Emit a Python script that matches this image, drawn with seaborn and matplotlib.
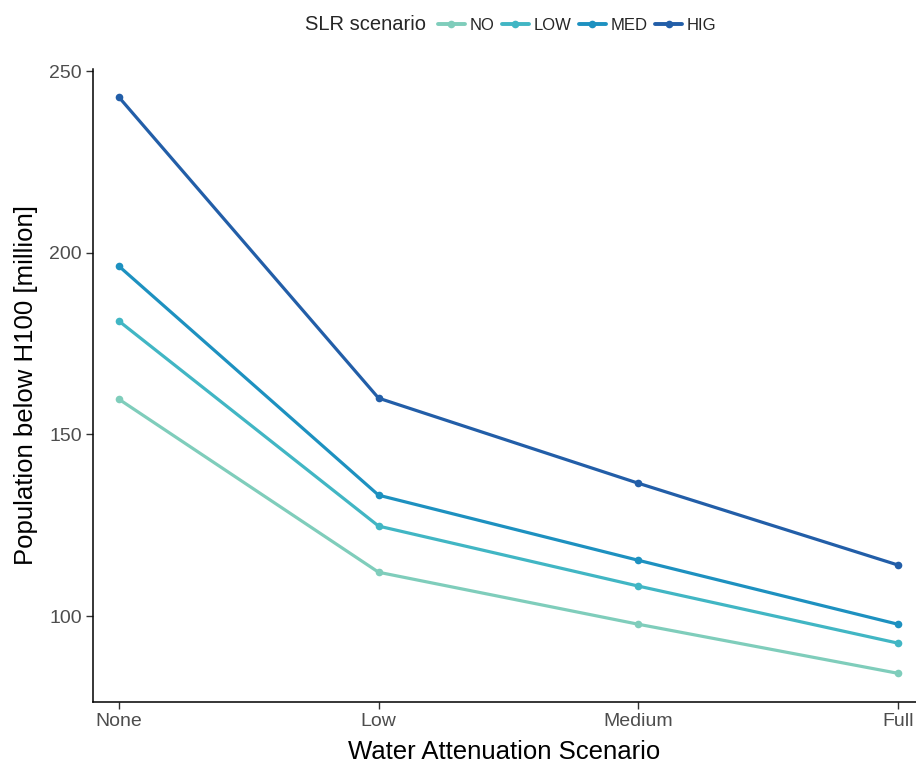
import pandas as pd
import matplotlib
matplotlib.use("Agg")
import matplotlib.pyplot as plt
import seaborn as sns

scenarios = ["None", "Low", "Medium", "Full"]
slr_levels = ["NO", "LOW", "MED", "HIG"]
pop_no = [159.7, 112.1, 97.8, 84.3]
pop_low = [181.2, 124.8, 108.3, 92.6]
pop_med = [196.3, 133.3, 115.4, 97.8]
pop_hig = [242.8, 160.0, 136.6, 114.1]
colors = ["#7fcdbb", "#41b6c4", "#1d91c0", "#225ea8"]

rows = []
for lvl, vals in zip(slr_levels, [pop_no, pop_low, pop_med, pop_hig]):
    for sc, v in zip(scenarios, vals):
        rows.append({"scenario": sc, "pop": v, "SLR": lvl})
df = pd.DataFrame(rows)

sns.set_style("white")
plt.rcParams['font.family'] = ['Liberation Sans', 'DejaVu Sans']

fig = plt.figure(figsize=(9.16, 7.62), dpi=100)
ax = fig.add_axes([93 / 916, 1 - 702 / 762, 1 - 93 / 916, (702 - 68.5) / 762])

sns.lineplot(data=df, x="scenario", y="pop", hue="SLR", hue_order=slr_levels,
             palette=colors, marker="o", markersize=5.5, markeredgewidth=0,
             linewidth=2.3, sort=False, ax=ax, legend=True)

ax.set_xlim(-0.1, 3.07)
ax.set_ylim(76.4, 250.7)
ax.set_yticks([100, 150, 200, 250])
ax.set_xlabel("Water Attenuation Scenario", fontsize=18.5, color="black", labelpad=7)
ax.set_ylabel("Population below H100 [million]", fontsize=18.5, color="black", labelpad=8)
ax.tick_params(axis="both", which="both", direction="out", length=5, width=1,
               color="#333333", labelsize=14, labelcolor="#4d4d4d",
               bottom=True, left=True, pad=3)
for s in ["top", "right"]:
    ax.spines[s].set_visible(False)
for s in ["left", "bottom"]:
    ax.spines[s].set_color("black")
    ax.spines[s].set_linewidth(1.1)

handles, labels = ax.get_legend_handles_labels()
ax.get_legend().remove()
for h in handles:
    h.set_linewidth(2.8)
fig.text(305 / 916, 1 - 25 / 762, "SLR scenario", fontsize=14.5, va="center", ha="left")
fig.legend(handles, labels, ncol=4, loc="center left",
           bbox_to_anchor=(438 / 916, 1 - 25 / 762), frameon=False,
           fontsize=12, handlelength=1.6, handletextpad=0.3,
           columnspacing=0.45, borderaxespad=0, borderpad=0)

fig.savefig("out.png", dpi=100)
